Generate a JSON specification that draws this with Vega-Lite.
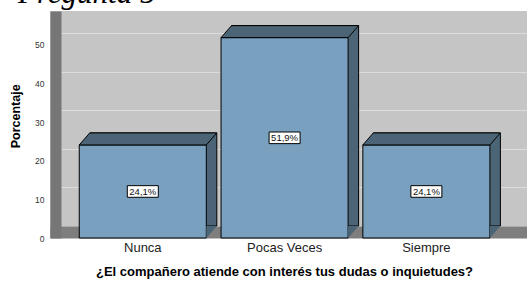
{
  "$schema": "https://vega.github.io/schema/vega-lite/v6.json",
  "width": 477,
  "height": 227,
  "autosize": {"type": "none"},
  "padding": {"left": 50, "top": 11, "right": 0, "bottom": 44},
  "background": "white",
  "config": {
    "view": {"fill": "#c5c5c5", "stroke": null},
    "font": "Liberation Sans"
  },
  "title": {
    "text": "Pregunta 5",
    "font": "Liberation Serif",
    "fontStyle": "italic",
    "fontWeight": "normal",
    "fontSize": 31,
    "anchor": "start",
    "frame": "group",
    "offset": 0,
    "dx": -32,
    "dy": 23,
    "baseline": "alphabetic",
    "color": "#000000"
  },
  "data": {
    "values": [
      {"respuesta": "Nunca", "porcentaje": 24.1, "etiqueta": "24,1%"},
      {"respuesta": "Pocas Veces", "porcentaje": 51.9, "etiqueta": "51,9%"},
      {"respuesta": "Siempre", "porcentaje": 24.1, "etiqueta": "24,1%"}
    ]
  },
  "layer": [
    {
      "encoding": {
        "x": {
          "field": "respuesta",
          "type": "nominal",
          "sort": ["Nunca", "Pocas Veces", "Siempre"],
          "scale": {"paddingInner": 0.104, "paddingOuter": 0.234, "align": 0.441},
          "axis": {
            "title": "¿El compañero atiende con interés tus dudas o inquietudes?",
            "labelAngle": 0,
            "ticks": false,
            "tickSize": 0,
            "grid": false,
            "domain": true,
            "domainColor": "#7e7e7e",
            "domainWidth": 12,
            "offset": -6,
            "labelPadding": 9,
            "labelFontSize": 13,
            "labelColor": "#222222",
            "labelFont": "Liberation Sans",
            "titleFont": "Liberation Sans",
            "titleFontSize": 13,
            "titleFontWeight": "bold",
            "titleColor": "#000000",
            "titleBaseline": "alphabetic",
            "titleAlign": "center",
            "titleX": 234,
            "titleY": 43.5
          }
        },
        "y": {
          "field": "porcentaje",
          "type": "quantitative",
          "scale": {"domain": [0, 58.8], "nice": false, "zero": true},
          "axis": {
            "title": "Porcentaje",
            "values": [0, 10, 20, 30, 40, 50],
            "grid": true,
            "gridColor": "#dcdcdc",
            "gridWidth": 1,
            "ticks": false,
            "tickSize": 0,
            "tickOffset": -12,
            "labelOffset": 12,
            "domain": true,
            "domainColor": "#767676",
            "domainWidth": 11,
            "offset": -5.5,
            "labelPadding": 11.5,
            "labelFontSize": 8.5,
            "labelColor": "#333333",
            "labelFont": "Liberation Sans",
            "titleFont": "Liberation Sans",
            "titleFontSize": 12.5,
            "titleFontWeight": "bold",
            "titleColor": "#000000",
            "titleAngle": 270,
            "titleBaseline": "alphabetic",
            "titleAlign": "center",
            "titleX": -35.8,
            "titleY": 104.8
          }
        }
      },
      "layer": [
        {
          "mark": {"type": "bar", "xOffset": 10.5, "yOffset": -12, "fill": "#4b6576", "stroke": "#000000", "strokeWidth": 1}
        },
        {
          "mark": {"type": "bar", "fill": "#79a0be", "stroke": "#000000", "strokeWidth": 1}
        },
        {
          "mark": {
            "type": "point",
            "shape": "M-1,0L1,0L1.165,-0.189L-0.835,-0.189Z",
            "size": 16154,
            "filled": true,
            "fill": "#4b6576",
            "stroke": "#000000",
            "strokeWidth": 1,
            "opacity": 1
          }
        },
        {
          "mark": {
            "type": "point",
            "shape": "M1,0L1.165,-0.189L1,-0.189Z",
            "size": 16154,
            "filled": true,
            "fill": "#4b6576",
            "strokeWidth": 0,
            "opacity": 1
          },
          "encoding": {"y": {"datum": 0, "type": "quantitative"}}
        }
      ]
    },
    {
      "encoding": {
        "x": {"field": "respuesta", "type": "nominal", "sort": ["Nunca", "Pocas Veces", "Siempre"]},
        "y": {
          "field": "porcentaje",
          "type": "quantitative",
          "scale": {"domain": [0, 117.6], "nice": false, "zero": true},
          "axis": null
        }
      },
      "layer": [
        {
          "mark": {
            "type": "point",
            "shape": "M-1,-0.375L1,-0.375L1,0.375L-1,0.375Z",
            "size": 961,
            "filled": true,
            "fill": "#ffffff",
            "stroke": "#000000",
            "strokeWidth": 1,
            "opacity": 1
          }
        },
        {
          "mark": {"type": "text", "fontSize": 9.5, "font": "Liberation Sans", "color": "#111111", "baseline": "middle", "align": "center", "dy": 0.5},
          "encoding": {"text": {"field": "etiqueta", "type": "nominal"}}
        }
      ]
    }
  ],
  "resolve": {"scale": {"y": "independent"}}
}
